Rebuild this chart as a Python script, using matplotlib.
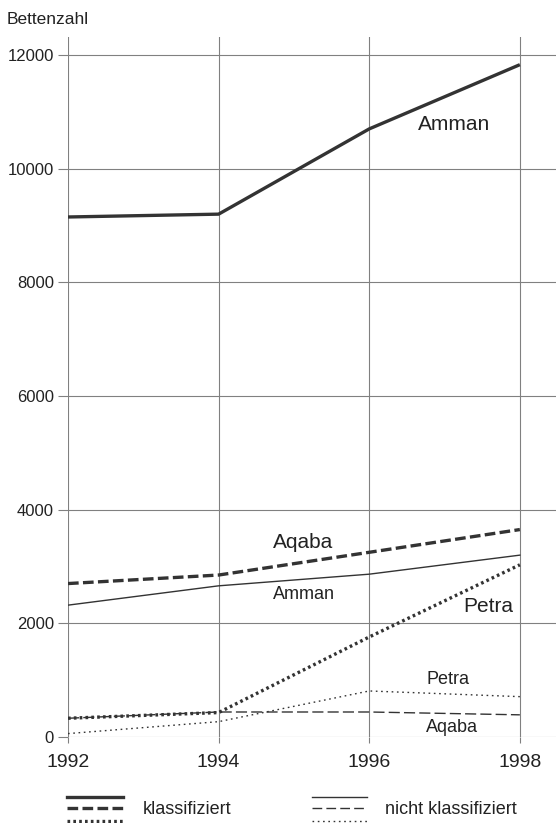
import numpy as np
import matplotlib.pyplot as plt
from matplotlib.lines import Line2D

plt.rcParams['font.family'] = ['Liberation Sans', 'DejaVu Sans']

years = [1992, 1994, 1996, 1998]

# klassifiziert
amman_k = [9150, 9200, 10700, 11830]
aqaba_k = [2700, 2850, 3250, 3650]
petra_k = [330, 430, 1760, 3030]

# nicht klassifiziert
amman_nk = [2320, 2660, 2865, 3200]
aqaba_nk = [330, 440, 440, 390]
petra_nk = [60, 270, 810, 710]

yticks = [0, 2000, 4000, 6000, 8000, 10000, 12000]

col = '#333333'
tcol = '#222222'
fig = plt.figure(figsize=(5.56, 8.23), dpi=100)
ax = fig.add_axes([68 / 556, 86 / 823, 488 / 556, 700 / 823])

thick = 2.4
thin = 1.0
ax.plot(years, amman_k, color=col, lw=thick, solid_capstyle='butt')
l, = ax.plot(years, aqaba_k, color=col, lw=thick)
l.set_dashes((3.2, 1.3))
l, = ax.plot(years, petra_k, color=col, lw=thick)
l.set_dashes((0.8, 0.95))
ax.plot(years, amman_nk, color=col, lw=thin)
l, = ax.plot(years, aqaba_nk, color=col, lw=thin)
l.set_dashes((8, 3))
l, = ax.plot(years, petra_nk, color=col, lw=thin)
l.set_dashes((1.2, 2.6))

ax.set_xlim(1992, 1998.48)
ax.set_ylim(0, 12317)
ax.set_xticks(years)
ax.set_yticks(yticks)
ax.grid(True, color='#808080', lw=0.8)
for s in ax.spines.values():
    s.set_visible(False)
ax.tick_params(axis='both', direction='out', width=0.8, color='#808080', labelcolor=tcol)
ax.tick_params(axis='x', length=4, pad=8, labelsize=14)
ax.tick_params(axis='y', length=7, pad=3, labelsize=12)

fs_big = 15
fs_small = 13
ax.text(1997.13, 10780, 'Amman', fontsize=fs_big, color=tcol, ha='center', va='center')
ax.text(1995.12, 3420, 'Aqaba', fontsize=fs_big, color=tcol, ha='center', va='center')
ax.text(1995.13, 2516, 'Amman', fontsize=fs_small, color=tcol, ha='center', va='center')
ax.text(1997.58, 2288, 'Petra', fontsize=fs_big, color=tcol, ha='center', va='center')
ax.text(1997.04, 1003, 'Petra', fontsize=fs_small, color=tcol, ha='center', va='center')
ax.text(1997.10, 160, 'Aqaba', fontsize=fs_small, color=tcol, ha='center', va='center')

fig.text(7 / 556, 1 - 19 / 823, 'Bettenzahl', fontsize=12.5, color=tcol, va='center')

# legend area
lax = fig.add_axes([0, 0, 1, 1])
lax.set_xlim(0, 556)
lax.set_ylim(823, 0)
lax.axis('off')
lax.add_line(Line2D([67, 123], [797, 797], color=col, lw=thick))
lg = Line2D([67, 123], [808, 808], color=col, lw=thick)
lg.set_dashes((3.2, 1.3))
lax.add_line(lg)
lg = Line2D([67, 123], [821, 821], color=col, lw=thick)
lg.set_dashes((0.8, 0.95))
lax.add_line(lg)
lax.add_line(Line2D([312, 367], [797, 797], color=col, lw=thin))
lg = Line2D([312, 367], [808, 808], color=col, lw=thin)
lg.set_dashes((7, 3))
lax.add_line(lg)
lg = Line2D([312, 367], [821, 821], color=col, lw=thin)
lg.set_dashes((1.2, 2.6))
lax.add_line(lg)
lax.text(143, 810, 'klassifiziert', fontsize=13, color=tcol, va='center')
lax.text(385, 810, 'nicht klassifiziert', fontsize=13, color=tcol, va='center')

fig.savefig('out.png', dpi=100, facecolor='white')
